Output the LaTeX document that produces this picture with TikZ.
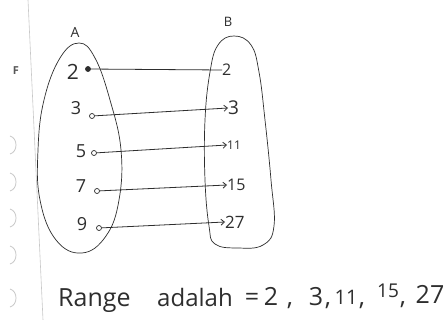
\documentclass[tikz,border=0pt]{standalone}
\usepackage{fontspec}
\setmainfont{Open Sans}
\usetikzlibrary{arrows.meta}
\definecolor{pen}{HTML}{2E2E2E}
\definecolor{paper}{HTML}{FFFFFF}
\definecolor{rule}{HTML}{C8C8C8}
\tikzset{
  setline/.style={draw=pen, line width=0.7pt},
  elem/.style={text=pen, font=\fontsize{18}{18}\selectfont, inner sep=0pt},
  relem/.style={text=pen, font=\fontsize{16}{16}\selectfont, inner sep=0pt, anchor=west},
  tail/.style={circle, draw=pen, line width=0.7pt, minimum size=5pt, inner sep=0pt},
  maparrow/.style={draw=pen, line width=0.8pt, -{Straight Barb[length=3.5pt,width=6pt]}},
  hole/.style={draw=rule, line width=0.8pt},
  txt/.style={text=pen, font=\fontsize{25}{25}\selectfont, anchor=base, inner sep=0pt},
}
\begin{document}
\begin{tikzpicture}[x=1pt,y=-1pt]
\useasboundingbox (0,0) rectangle (446,320);
\fill[paper] (0,0) rectangle (446,320);
% notebook margin line and binder marks
\coordinate (mt) at (28,0);
\coordinate (mb) at (43,320);
\draw[rule, line width=0.6pt] (mt) -- (mb);
\foreach \yy in {145,182,218,255,298}{
  \draw[hole] (10,\yy-9) .. controls (18,\yy-7) and (18,\yy+7) .. (10,\yy+9);
}
\node[text=pen!80, font=\fontsize{11}{11}\selectfont\bfseries] (fmark) at (16,71) {F};
% sets
\draw[setline] plot[smooth cycle, tension=0.7] coordinates {(79,43) (95,58) (110,100) (121,150) (119,200) (106,236) (82,253) (56,240) (40,200) (38,150) (44,100) (60,58)};
\draw[setline] plot[smooth cycle, tension=0.7] coordinates {(234,36) (251,45) (259,72) (265,120) (271,180) (274,226) (263,245) (238,248) (215,244) (209,226) (205,180) (205,120) (210,72) (218,45)};
\node[text=pen, font=\fontsize{14}{14}\selectfont] (lA) at (75,32) {A};
\node[text=pen, font=\fontsize{13}{13}\selectfont] (lB) at (228,22) {B};
% domain
\node[elem, font=\fontsize{21}{21}\selectfont] (a2) at (73,72) {2};
\node[elem] (a3) at (76,108) {3};
\node[elem] (a5) at (81,151) {5};
\node[elem] (a7) at (81,186) {7};
\node[elem] (a9) at (82,224) {9};
\node[tail, fill=pen] (d2) at (88,69) {};
\node[tail] (d3) at (92,116) {};
\node[tail] (d5) at (94,153) {};
\node[tail] (d7) at (97,191) {};
\node[tail] (d9) at (99,228) {};
% range
\node[relem] (b2) at (222,70) {2};
\node[relem, font=\fontsize{19}{19}\selectfont] (b3) at (228,108) {3};
\node[relem, font=\fontsize{12}{12}\selectfont] (b11) at (227,145) {11};
\node[relem] (b15) at (227,185) {15};
\node[relem, font=\fontsize{17}{17}\selectfont] (b27) at (225,222) {27};
% mappings
\draw[setline, line width=0.8pt] (d2) -- (b2.west);
\draw[maparrow] (d3) -- (b3.west);
\draw[maparrow] (d5) -- (b11.west);
\draw[maparrow] (d7) -- (b15.west);
\draw[maparrow] (d9) -- (b27.west);
% bottom text
\node[txt, anchor=base west] (w1) at (58,306) {Range};
\node[txt, anchor=base west, font=\fontsize{24}{24}\selectfont] (w2) at (157,306) {adalah};
\node[txt] (eq) at (252,305) {=};
\node[txt] (n2) at (271,305) {2};
\node[txt] (c1) at (290,305) {,};
\node[txt] (n3) at (316,305) {3};
\node[txt] (c2) at (328,305) {,};
\node[txt, font=\fontsize{20}{20}\selectfont] (n11) at (346,304) {11};
\node[txt] (c3) at (362,305) {,};
\node[txt, font=\fontsize{19}{19}\selectfont] (n15) at (388,297) {15};
\node[txt] (c4) at (403,304) {,};
\node[txt] (n27) at (430,303) {27};
\end{tikzpicture}
\end{document}
